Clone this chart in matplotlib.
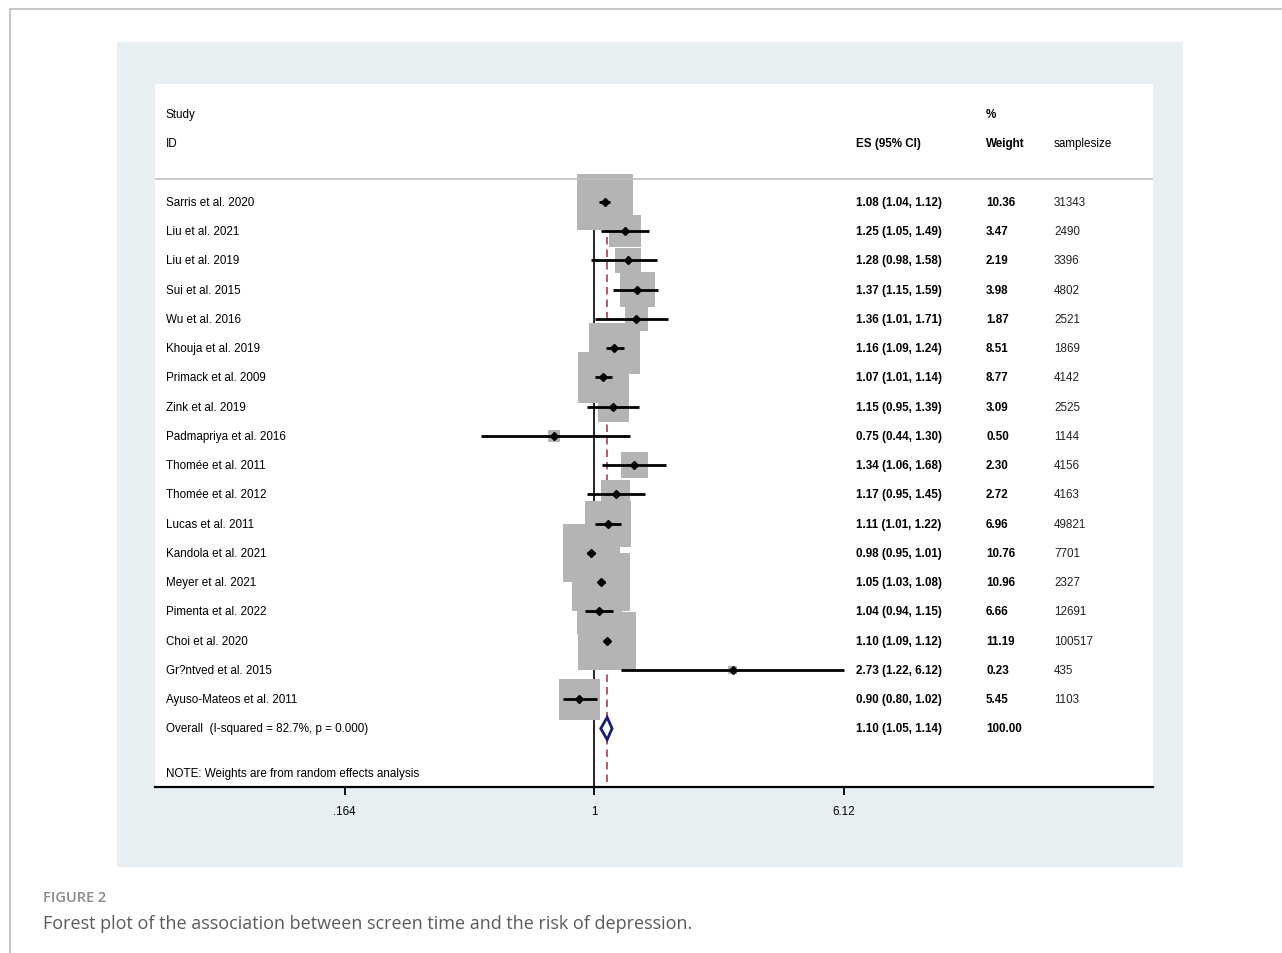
import matplotlib.pyplot as plt
import numpy as np
from matplotlib.lines import Line2D
from matplotlib.patches import Rectangle
from matplotlib.ticker import NullLocator

# data
studies = [
    "Sarris et al. 2020", "Liu et al. 2021", "Liu et al. 2019", "Sui et al. 2015",
    "Wu et al. 2016", "Khouja et al. 2019", "Primack et al. 2009", "Zink et al. 2019",
    "Padmapriya et al. 2016", "Thomée et al. 2011", "Thomée et al. 2012",
    "Lucas et al. 2011", "Kandola et al. 2021", "Meyer et al. 2021",
    "Pimenta et al. 2022", "Choi et al. 2020", "Gr?ntved et al. 2015",
    "Ayuso-Mateos et al. 2011",
]
es = [1.08, 1.25, 1.28, 1.37, 1.36, 1.16, 1.07, 1.15, 0.75, 1.34, 1.17, 1.11,
      0.98, 1.05, 1.04, 1.10, 2.73, 0.90]
ci_low = [1.04, 1.05, 0.98, 1.15, 1.01, 1.09, 1.01, 0.95, 0.44, 1.06, 0.95, 1.01,
          0.95, 1.03, 0.94, 1.09, 1.22, 0.80]
ci_high = [1.12, 1.49, 1.58, 1.59, 1.71, 1.24, 1.14, 1.39, 1.30, 1.68, 1.45, 1.22,
           1.01, 1.08, 1.15, 1.12, 6.12, 1.02]
weights = [10.36, 3.47, 2.19, 3.98, 1.87, 8.51, 8.77, 3.09, 0.50, 2.30, 2.72, 6.96,
           10.76, 10.96, 6.66, 11.19, 0.23, 5.45]
sample_sizes = [31343, 2490, 3396, 4802, 2521, 1869, 4142, 2525, 1144, 4156, 4163,
                49821, 7701, 2327, 12691, 100517, 435, 1103]

overall_es = 1.10
overall_low = 1.05
overall_high = 1.14
overall_weight = 100.00
i_squared = 82.7
p_value = 0.000

axis_ticks = [0.164, 1, 6.12]
axis_tick_labels = [".164", "1", "6.12"]

W, H = 1282, 954
PANEL_COLOR = "#e8eff2"
BOX_COLOR = "#b4b4b4"
FONT = "Liberation Sans"


def fx(px):
    return px / W


def fy(py):
    return 1 - py / H


def main():
    plt.rcParams["font.family"] = FONT

    fig = plt.figure(figsize=(W / 100, H / 100), dpi=100)
    fig.patch.set_facecolor("white")

    # page frame and shaded panel
    frame_kw = dict(transform=fig.transFigure, color="#c4c4c4", linewidth=1.3)
    fig.add_artist(Line2D([fx(10), fx(10)], [0, fy(10)], **frame_kw))
    fig.add_artist(Line2D([fx(10), 1], [fy(10), fy(10)], **frame_kw))
    fig.add_artist(Rectangle((fx(117), fy(868)), 1066 / W, 825 / H,
                             transform=fig.transFigure, facecolor=PANEL_COLOR,
                             edgecolor="none", zorder=-1))

    ax = fig.add_axes([fx(155), fy(788), 998 / W, 703 / H])
    ax.set_facecolor("white")

    # log axis: 1 at x=594px, 6.12 at x=844px
    scale = 250 / np.log(6.12)
    ax.set_xscale("log")
    ax.set_xlim(np.exp(-439 / scale), np.exp(559 / scale))

    n = len(studies)
    rows = np.arange(n)
    overall_row = n
    ax.set_ylim(20.0, -4.034)

    # reference lines
    ax.vlines(1, -0.5, 20.0, color="black", linewidth=1.2, zorder=1)
    ax.vlines(overall_es, -0.5, 20.0, color="#a5404c", linewidth=1.2,
              linestyles=(0, (4.5, 3.0)), zorder=1)

    # weight boxes, CIs and point estimates
    ax.scatter(es, rows, s=157 * np.array(weights), marker="s", color=BOX_COLOR,
               linewidths=0, zorder=2)
    ax.hlines(rows, ci_low, ci_high, color="black", linewidth=2.0, zorder=3)
    ax.plot(es, rows, "D", color="black", markersize=4.5, zorder=4)

    # pooled diamond
    h = 0.38
    ax.fill([overall_low, overall_es, overall_high, overall_es],
            [overall_row, overall_row - h, overall_row, overall_row + h],
            facecolor="white", edgecolor="#1b1b7a", linewidth=2.0, zorder=4)

    # header separator
    ax.axhline(-0.79, color="#c0c0c0", linewidth=1.2)

    # text columns
    tr = ax.get_yaxis_transform()
    fs = 8.4
    x_study, x_es, x_w, x_n = 0.011, 0.7024, 0.8327, 0.9008
    ax.text(x_study, -3.01, "Study", transform=tr, fontsize=fs, va="center")
    ax.text(x_study, -2.02, "ID", transform=tr, fontsize=fs, va="center")
    ax.text(x_w, -3.01, "%", transform=tr, fontsize=fs, va="center", weight="bold")
    ax.text(x_es, -2.02, "ES (95% CI)", transform=tr, fontsize=fs, va="center", weight="bold")
    ax.text(x_w, -2.02, "Weight", transform=tr, fontsize=fs, va="center", weight="bold")
    ax.text(x_n, -2.02, "samplesize", transform=tr, fontsize=fs, va="center")

    for i in range(n):
        ax.text(x_study, i, studies[i], transform=tr, fontsize=fs, va="center")
        ax.text(x_es, i, f"{es[i]:.2f} ({ci_low[i]:.2f}, {ci_high[i]:.2f})",
                transform=tr, fontsize=fs, va="center", weight="bold")
        ax.text(x_w, i, f"{weights[i]:.2f}", transform=tr, fontsize=fs,
                va="center", weight="bold")
        ax.text(x_n, i, f"{sample_sizes[i]}", transform=tr, fontsize=fs,
                va="center", color="#222222")

    ax.text(x_study, overall_row,
            f"Overall  (I-squared = {i_squared:.1f}%, p = {p_value:.3f})",
            transform=tr, fontsize=fs, va="center")
    ax.text(x_es, overall_row,
            f"{overall_es:.2f} ({overall_low:.2f}, {overall_high:.2f})",
            transform=tr, fontsize=fs, va="center", weight="bold")
    ax.text(x_w, overall_row, f"{overall_weight:.2f}", transform=tr, fontsize=fs,
            va="center", weight="bold")
    ax.text(x_study, 19.52, "NOTE: Weights are from random effects analysis",
            transform=tr, fontsize=fs, va="center")

    # axis styling
    for side in ["top", "left", "right"]:
        ax.spines[side].set_visible(False)
    ax.spines["bottom"].set_linewidth(1.6)
    ax.set_yticks([])
    ax.set_xticks(axis_ticks)
    ax.set_xticklabels(axis_tick_labels, fontsize=fs)
    ax.xaxis.set_minor_locator(NullLocator())
    ax.tick_params(axis="x", direction="out", length=6, width=1.3, pad=7)

    # caption
    fig.text(fx(43), fy(898), "FIGURE 2", fontfamily="Open Sans", weight="semibold",
             color="#8a8a8a", fontsize=10.5, va="center")
    fig.text(fx(43), fy(924),
             "Forest plot of the association between screen time and the risk of depression.",
             fontfamily="Open Sans", color="#5a5a5a", fontsize=13, va="center")

    fig.savefig("out.png", dpi=100, facecolor=fig.get_facecolor())


if __name__ == "__main__":
    main()
